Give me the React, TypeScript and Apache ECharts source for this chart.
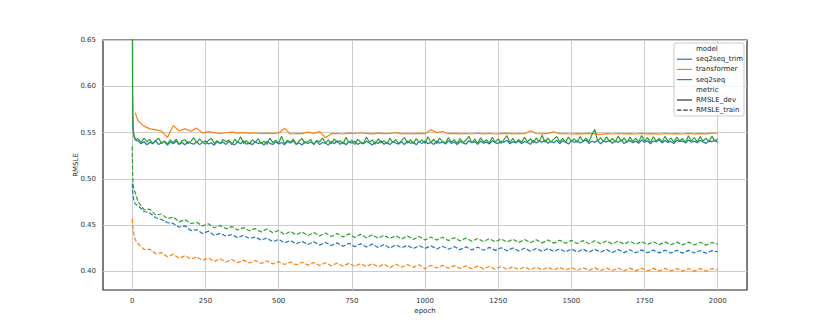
import React, { useEffect, useRef } from "react";
import * as echarts from "echarts";

// ---- epochs (x positions of the recorded evaluations) ----
const earlyEpochs = [0, 1, 2, 3, 4, 6, 8, 10, 14];
const trainStepEpochs: number[] = [];
for (let e = 20; e <= 2000; e += 20) trainStepEpochs.push(e);
const devStepEpochs: number[] = [];
for (let e = 20; e <= 2000; e += 10) devStepEpochs.push(e);
const trainEpochs = [...earlyEpochs, ...trainStepEpochs];
const devEpochs = [...earlyEpochs, ...devStepEpochs];
const transformerDevEpochs = [10, ...trainStepEpochs];

// ---- seq2seq_trim ----
const seq2seqTrimDev = [
  0.8, 0.59, 0.562, 0.553, 0.549, 0.5455, 0.5435, 0.5425, 0.5412,
  0.541, 0.5378, 0.5401, 0.5369, 0.5395, 0.5383, 0.5412, 0.5371, 0.539, 0.5404,
  0.5366, 0.5398, 0.538, 0.5409, 0.5373, 0.5392, 0.5368, 0.5403, 0.5385, 0.5375,
  0.54, 0.537, 0.5393, 0.5411, 0.5377, 0.5389, 0.5364, 0.5406, 0.5382, 0.5397,
  0.5372, 0.5404, 0.5386, 0.5367, 0.5399, 0.5379, 0.5413, 0.5374, 0.5391, 0.5369,
  0.5402, 0.5381, 0.5396, 0.5365, 0.5408, 0.5384, 0.5371, 0.54, 0.5377, 0.5394,
  0.5368, 0.5405, 0.5387, 0.541, 0.5373, 0.539, 0.5366, 0.5402, 0.5383, 0.5398,
  0.5376, 0.5409, 0.537, 0.5393, 0.5385, 0.5367, 0.5404, 0.538, 0.5412, 0.5374,
  0.5395, 0.5369, 0.5401, 0.5384, 0.5407, 0.5372, 0.5391, 0.5378, 0.5406, 0.5387,
  0.5365, 0.5399, 0.5382, 0.541, 0.5374, 0.5396, 0.537, 0.5403, 0.5388, 0.5376,
  0.5401, 0.5371, 0.5408, 0.5386, 0.5397, 0.5368, 0.5405, 0.5381, 0.5411, 0.5379,
  0.5394, 0.5372, 0.5409, 0.5385, 0.54, 0.5376, 0.5414, 0.5383, 0.5398, 0.537,
  0.5406, 0.5388, 0.5375, 0.5412, 0.5391, 0.5403, 0.5373, 0.541, 0.5386, 0.5399,
  0.5377, 0.5413, 0.5392, 0.5381, 0.5407, 0.5395, 0.5416, 0.5379, 0.5402, 0.5389,
  0.541, 0.5382, 0.5404, 0.5393, 0.5374, 0.5415, 0.5387, 0.5408, 0.5396, 0.5419,
  0.5384, 0.5405, 0.5391, 0.5417, 0.538, 0.5409, 0.5398, 0.5376, 0.5413, 0.5394,
  0.5411, 0.5387, 0.5403, 0.542, 0.5383, 0.5406, 0.5395, 0.5416, 0.5379, 0.5408,
  0.5399, 0.5418, 0.5385, 0.541, 0.5392, 0.5421, 0.5381, 0.5404, 0.5414, 0.539,
  0.5407, 0.5384, 0.5419, 0.5396, 0.5412, 0.5378, 0.5409, 0.54, 0.5422, 0.5388,
  0.5415, 0.5393, 0.5405, 0.5382, 0.5418, 0.5401, 0.5411, 0.5386, 0.542, 0.5397,
  0.5408, 0.539, 0.5416, 0.5399, 0.5384, 0.5413, 0.5402, 0.5419, 0.5394,
];
const seq2seqTrimTrain = [
  0.495, 0.488, 0.484, 0.481, 0.479, 0.4765, 0.4745, 0.473, 0.472,
  0.4712, 0.4648, 0.4633, 0.458, 0.4561, 0.4528, 0.4519, 0.4478, 0.4493, 0.4442,
  0.4451, 0.441, 0.4434, 0.4392, 0.4412, 0.4381, 0.4399, 0.4365, 0.439, 0.4358,
  0.4372, 0.434, 0.4361, 0.4322, 0.4346, 0.4309, 0.4334, 0.4298, 0.4326, 0.4292,
  0.432, 0.4285, 0.4314, 0.428, 0.4309, 0.4272, 0.4305, 0.4268, 0.43, 0.4264,
  0.4296, 0.4259, 0.4291, 0.4252, 0.4288, 0.4256, 0.4282, 0.4248, 0.4279, 0.425,
  0.4277, 0.4243, 0.4273, 0.424, 0.4269, 0.4236, 0.4266, 0.4233, 0.4262, 0.423,
  0.426, 0.4228, 0.4257, 0.4224, 0.4254, 0.4222, 0.4251, 0.4219, 0.4249, 0.4218,
  0.4247, 0.4216, 0.4245, 0.4212, 0.4243, 0.4211, 0.4241, 0.4209, 0.4239, 0.421,
  0.4237, 0.4205, 0.4236, 0.4204, 0.4234, 0.4202, 0.4233, 0.4203, 0.4231, 0.4201,
  0.423, 0.42, 0.4229, 0.4198, 0.4228, 0.4199, 0.4226, 0.4197, 0.4225, 0.4212,
];

// ---- transformer ----
const transformerDev = [
  0.5716,
  0.5625, 0.557, 0.554, 0.553, 0.5515, 0.5448, 0.5575, 0.552, 0.554, 0.5515,
  0.5548, 0.5495, 0.551, 0.55, 0.549, 0.5498, 0.5505, 0.5495, 0.55, 0.5492,
  0.5497, 0.549, 0.5494, 0.5488, 0.5496, 0.5545, 0.5485, 0.549, 0.5488, 0.5505,
  0.5492, 0.551, 0.5445, 0.5488, 0.549, 0.5485, 0.5494, 0.549, 0.5498, 0.5492,
  0.5487, 0.5495, 0.5488, 0.549, 0.55, 0.5487, 0.549, 0.5486, 0.5492, 0.5488,
  0.553, 0.55, 0.5512, 0.5488, 0.5492, 0.5486, 0.549, 0.5485, 0.5493, 0.5487,
  0.549, 0.5485, 0.5489, 0.5492, 0.5486, 0.549, 0.5487, 0.552, 0.549, 0.5486,
  0.5491, 0.5508, 0.5487, 0.549, 0.5485, 0.5489, 0.5486, 0.5492, 0.5487, 0.548,
  0.5488, 0.5485, 0.549, 0.5486, 0.5489, 0.5485, 0.5491, 0.5486, 0.5489, 0.5484,
  0.549, 0.5486, 0.5488, 0.5485, 0.5491, 0.5486, 0.5489, 0.5487, 0.5495, 0.5493,
];
const transformerTrain = [
  0.457, 0.452, 0.448, 0.445, 0.443, 0.44, 0.437, 0.435, 0.432,
  0.43, 0.4238, 0.424, 0.4192, 0.4203, 0.416, 0.4185, 0.4143, 0.417, 0.4133,
  0.4158, 0.412, 0.4146, 0.4109, 0.4138, 0.4102, 0.4129, 0.4096, 0.4123, 0.4091,
  0.4118, 0.4086, 0.4114, 0.4082, 0.4107, 0.4076, 0.4103, 0.4072, 0.41, 0.4069,
  0.4097, 0.4065, 0.4095, 0.4062, 0.4091, 0.4058, 0.4088, 0.4055, 0.4086, 0.4053,
  0.4083, 0.4051, 0.408, 0.404, 0.4078, 0.4046, 0.4075, 0.4044, 0.4072, 0.403,
  0.4068, 0.4038, 0.4066, 0.4035, 0.4063, 0.4032, 0.4061, 0.403, 0.4058, 0.4028,
  0.4056, 0.4025, 0.4054, 0.4023, 0.4051, 0.4021, 0.4049, 0.4019, 0.4047, 0.4018,
  0.4045, 0.4016, 0.4044, 0.4014, 0.4042, 0.4013, 0.4041, 0.4012, 0.4039, 0.4011,
  0.4038, 0.401, 0.4037, 0.4008, 0.4036, 0.4007, 0.4035, 0.4006, 0.4034, 0.4006,
  0.4033, 0.4005, 0.4032, 0.4004, 0.4032, 0.4004, 0.4031, 0.4003, 0.403, 0.4018,
];

// ---- seq2seq ----
const seq2seqDev = [
  0.8, 0.6, 0.566, 0.556, 0.551, 0.547, 0.545, 0.5435, 0.5425,
  0.5436, 0.5392, 0.5441, 0.5401, 0.5426, 0.5379, 0.5414, 0.5439, 0.5383, 0.5409,
  0.5374, 0.5421, 0.5392, 0.543, 0.5371, 0.5413, 0.5423, 0.538, 0.5405, 0.5444,
  0.5389, 0.5432, 0.5398, 0.5375, 0.5416, 0.5437, 0.5385, 0.5411, 0.5379, 0.5425,
  0.5401, 0.542, 0.537, 0.5428, 0.5393, 0.5456, 0.5382, 0.5414, 0.5376, 0.5422,
  0.5397, 0.5433, 0.5381, 0.5408, 0.5372, 0.544, 0.5391, 0.5419, 0.5386, 0.5461,
  0.5378, 0.5417, 0.5395, 0.5429, 0.5373, 0.541, 0.5437, 0.5384, 0.5403, 0.5426,
  0.5369, 0.5415, 0.54, 0.5442, 0.5388, 0.5421, 0.5377, 0.5432, 0.5394, 0.5412,
  0.538, 0.5448, 0.5391, 0.5418, 0.5371, 0.5427, 0.5399, 0.5384, 0.5452, 0.5396,
  0.542, 0.5375, 0.5434, 0.5389, 0.5411, 0.5378, 0.5438, 0.5393, 0.5424, 0.5382,
  0.5413, 0.5446, 0.5386, 0.5425, 0.5379, 0.5435, 0.5397, 0.542, 0.5383, 0.5455,
  0.5392, 0.5428, 0.5381, 0.5441, 0.5403, 0.5386, 0.5447, 0.5395, 0.5422, 0.5384,
  0.5436, 0.5391, 0.5418, 0.546, 0.5389, 0.543, 0.5385, 0.5444, 0.5398, 0.5421,
  0.5387, 0.5449, 0.5396, 0.5432, 0.5383, 0.5425, 0.5466, 0.5393, 0.5438, 0.539,
  0.5427, 0.5394, 0.5453, 0.5399, 0.5434, 0.5388, 0.5442, 0.5401, 0.5471, 0.5396,
  0.544, 0.5397, 0.5429, 0.5458, 0.5399, 0.5437, 0.5392, 0.5452, 0.5403, 0.5433,
  0.5395, 0.5457, 0.5404, 0.5441, 0.5398, 0.5476, 0.5534, 0.5409, 0.5446, 0.54,
  0.5455, 0.5402, 0.5438, 0.5396, 0.5463, 0.5405, 0.5443, 0.5394, 0.5451, 0.5404,
  0.5437, 0.5398, 0.5468, 0.5406, 0.5445, 0.5395, 0.5454, 0.5408, 0.5439, 0.5399,
  0.5461, 0.5403, 0.5444, 0.5397, 0.5452, 0.541, 0.5436, 0.5393, 0.5465, 0.5407,
  0.5447, 0.54, 0.5456, 0.5409, 0.5441, 0.5398, 0.5462, 0.5405, 0.5432,
];
const seq2seqTrain = [
  0.535, 0.508, 0.499, 0.494, 0.491, 0.488, 0.4865, 0.4855, 0.481,
  0.4752, 0.4668, 0.4672, 0.4609, 0.4621, 0.457, 0.4588, 0.4536, 0.456, 0.4518,
  0.4531, 0.4492, 0.4516, 0.4472, 0.4498, 0.4461, 0.4485, 0.4449, 0.4474, 0.444,
  0.4463, 0.4428, 0.4458, 0.4419, 0.4442, 0.4401, 0.4432, 0.4395, 0.4427, 0.4389,
  0.4421, 0.4384, 0.4415, 0.4377, 0.4411, 0.4372, 0.4406, 0.4368, 0.4401, 0.4364,
  0.4397, 0.436, 0.4391, 0.4355, 0.4387, 0.4351, 0.4384, 0.4347, 0.4379, 0.434,
  0.4373, 0.4339, 0.4369, 0.4334, 0.4365, 0.433, 0.4361, 0.4327, 0.4357, 0.4323,
  0.4354, 0.432, 0.4351, 0.4317, 0.4348, 0.4314, 0.4345, 0.4311, 0.4343, 0.4309,
  0.434, 0.4306, 0.4338, 0.4304, 0.4336, 0.4302, 0.4334, 0.43, 0.4332, 0.4299,
  0.433, 0.4297, 0.4328, 0.4295, 0.4326, 0.4293, 0.4324, 0.4292, 0.4322, 0.429,
  0.432, 0.4289, 0.4318, 0.4287, 0.4317, 0.4286, 0.4315, 0.4285, 0.4313, 0.4296,
];

// ---- ticks & legend entries ----
const xTicks = [0, 250, 500, 750, 1000, 1250, 1500, 1750, 2000];
const yTicks = [0.4, 0.45, 0.5, 0.55, 0.6, 0.65];
const modelNames = ["seq2seq_trim", "transformer", "seq2seq"];
const modelColors = ["#1f77b4", "#ff7f0e", "#2ca02c"];
const metricNames = ["RMSLE_dev", "RMSLE_train"];

const FONT = "DejaVu Sans";
const DASH = [4.4, 1.9];

function pair(xs: number[], ys: number[]) {
  return xs.map((x, i) => [x, ys[i]]);
}

export default function App() {
  const ref = useRef<HTMLDivElement>(null);
  useEffect(() => {
    if (!ref.current) return;
    const chart = echarts.init(ref.current, undefined, { renderer: "svg" });

    const mk = (name: string, xs: number[], ys: number[], color: string, dashed: boolean) => ({
      name,
      type: "line",
      data: pair(xs, ys),
      showSymbol: false,
      symbol: "none",
      clip: true,
      lineStyle: { color, width: 1.2, type: dashed ? DASH : "solid" },
      emphasis: { disabled: true },
      z: 3,
    });

    const series = [
      mk("seq2seq_trim RMSLE_dev", devEpochs, seq2seqTrimDev, modelColors[0], false),
      mk("seq2seq_trim RMSLE_train", trainEpochs, seq2seqTrimTrain, modelColors[0], true),
      mk("transformer RMSLE_dev", transformerDevEpochs, transformerDev, modelColors[1], false),
      mk("transformer RMSLE_train", trainEpochs, transformerTrain, modelColors[1], true),
      mk("seq2seq RMSLE_dev", devEpochs, seq2seqDev, modelColors[2], false),
      mk("seq2seq RMSLE_train", trainEpochs, seq2seqTrain, modelColors[2], true),
    ];

    // legend built from the name lists
    const lx = 674, ly = 43, rowH = 10.2;
    const legendEls: any[] = [
      {
        type: "rect",
        shape: { x: lx, y: ly, width: 70, height: 73, r: 2 },
        style: { fill: "rgba(255,255,255,0.8)", stroke: "#cccccc", lineWidth: 1 },
        z: 10,
      },
    ];
    const rows: { label: string; color?: string; dash?: boolean }[] = [
      { label: "model" },
      ...modelNames.map((m, i) => ({ label: m, color: modelColors[i], dash: false })),
      { label: "metric" },
      ...metricNames.map((m, i) => ({ label: m, color: "#333333", dash: i === 1 })),
    ];
    rows.forEach((r, i) => {
      const cy = ly + 6 + i * rowH;
      if (r.color) {
        legendEls.push({
          type: "line",
          shape: { x1: lx + 3, y1: cy, x2: lx + 18, y2: cy },
          style: { stroke: r.color, lineWidth: 1.2, lineDash: r.dash ? DASH : null },
          z: 11,
        });
      }
      legendEls.push({
        type: "text",
        x: lx + 22,
        y: cy,
        style: {
          text: r.label,
          fontSize: 7,
          fontFamily: FONT,
          fill: "#262626",
          verticalAlign: "middle",
          align: "left",
        },
        z: 11,
      });
    });

    chart.setOption({
      animation: false,
      backgroundColor: "#ffffff",
      grid: {
        left: 103,
        top: 40,
        width: 644,
        height: 250,
        show: true,
        borderColor: "#262626",
        borderWidth: 1.2,
        backgroundColor: "transparent",
      },
      xAxis: {
        type: "value",
        min: -100,
        max: 2100,
        axisLine: { show: false },
        axisTick: { show: false, customValues: xTicks },
        axisLabel: {
          customValues: xTicks,
          fontSize: 7,
          fontFamily: FONT,
          color: "#333333",
          margin: 7,
          formatter: (v: number) => String(v),
        },
        splitLine: { show: true, lineStyle: { color: "#cccccc", width: 1 } },
        name: "epoch",
        nameLocation: "middle",
        nameGap: 17,
        nameMoveOverlap: false,
        nameTextStyle: { fontSize: 7, fontFamily: FONT, color: "#262626" },
      },
      yAxis: {
        type: "value",
        min: 0.38,
        max: 0.65,
        axisLine: { show: false },
        axisTick: { show: false, customValues: yTicks },
        axisLabel: {
          customValues: yTicks,
          fontSize: 7,
          fontFamily: FONT,
          color: "#333333",
          margin: 7,
          formatter: (v: number) => v.toFixed(2),
        },
        splitLine: { show: true, lineStyle: { color: "#cccccc", width: 1 } },
        name: "RMSLE",
        nameLocation: "middle",
        nameGap: 24,
        nameMoveOverlap: false,
        nameTextStyle: { fontSize: 7, fontFamily: FONT, color: "#262626" },
      },
      series,
      graphic: legendEls,
    });
    return () => chart.dispose();
  }, []);

  return (
    <div
      ref={ref}
      style={{ position: "fixed", left: 0, top: 0, width: 830, height: 332, background: "#fff" }}
    />
  );
}
